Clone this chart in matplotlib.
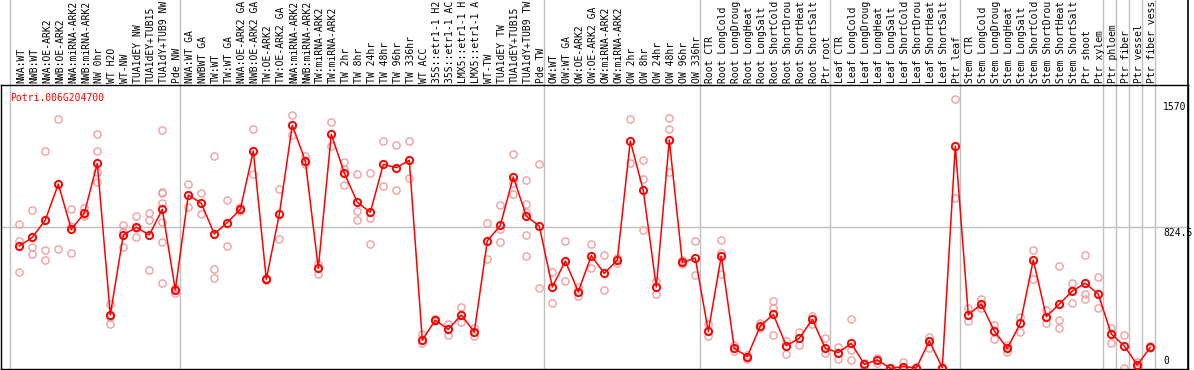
import matplotlib
matplotlib.use("Agg")
import matplotlib.pyplot as plt
import matplotlib.transforms as mtransforms

# -------------------------
# Data
# -------------------------
gene = "Potri.006G204700"

samples = [
    "NWA:WT", "NWB:WT", "NWA:OE-ARK2", "NWB:OE-ARK2", "NWA:miRNA-ARK2",
    "NWB:miRNA-ARK2", "NW 0hr", "WT H2O", "WT-NW", "TUA1dEY NW",
    "TUA1dEY+TUB15", "TUA1dY+TUB9 NW", "Pde NW",
    "NWA:WT GA", "NWBWT GA", "TW:WT", "TW:WT GA", "NWA:OE-ARK2 GA",
    "NWB:OE-ARK2 GA", "TW:OE-ARK2", "TW:OE-ARK2 GA", "NWA:miRNA-ARK2",
    "NWB:miRNA-ARK2", "TW:miRNA-ARK2", "TW:miRNA-ARK2", "TW 2hr", "TW 8hr",
    "TW 24hr", "TW 48hr", "TW 96hr", "TW 336hr", "WT ACC",
    "35S::etr1-1 H2O", "35S::etr1-1 ACC", "LMX5::etr1-1 H2O",
    "LMX5::etr1-1 ACC", "WT-TW", "TUA1dEY TW", "TUA1dEY+TUB15",
    "TUA1dY+TUB9 TW", "Pde TW",
    "OW:WT", "OW:WT GA", "OW:OE-ARK2", "OW:OE-ARK2 GA", "OW:miRNA-ARK2",
    "OW:miRNA-ARK2", "OW 2hr", "OW 8hr", "OW 24hr", "OW 48hr", "OW 96hr",
    "OW 336hr",
    "Root CTR", "Root LongCold", "Root LongDrought", "Root LongHeat",
    "Root LongSalt", "Root ShortCold", "Root ShortDrought", "Root ShortHeat",
    "Root ShortSalt", "Ptr root",
    "Leaf CTR", "Leaf LongCold", "Leaf LongDrought", "Leaf LongHeat",
    "Leaf LongSalt", "Leaf ShortCold", "Leaf ShortDrought", "Leaf ShortHeat",
    "Leaf ShortSalt", "Ptr leaf",
    "Stem CTR", "Stem LongCold", "Stem LongDrought", "Stem LongHeat",
    "Stem LongSalt", "Stem ShortCold", "Stem ShortDrought", "Stem ShortHeat",
    "Stem ShortSalt", "Ptr shoot",
    "Ptr xylem", "Ptr phloem", "Ptr fiber", "Ptr vessel", "Ptr fiber vessel",
]

means = [
    714, 764, 865, 1074, 811, 904, 1194, 314, 778, 823, 778, 927, 459,
    1010, 962, 784, 850, 927, 1266, 521, 898, 1415, 1209, 585, 1363, 1138,
    968, 910, 1188, 1169, 1212, 168, 284, 230, 314, 215, 743, 834, 1115,
    888, 830,
    476, 627, 449, 658, 555, 633, 1324, 1037, 476, 1330, 619, 644,
    219, 656, 120, 72, 250, 317, 135, 178, 288, 120,
    95, 149, 27, 52, 4, 14, 6, 163, 8, 1295,
    314, 377, 221, 120, 265, 633, 304, 377, 453, 498,
    434, 203, 134, 23, 126,
]

replicates = [
    [840, 743, 561], [921, 706, 666], [1266, 691, 633], [1450, 697],
    [927, 833, 672], [933, 900, 888], [1363, 1266, 1142, 1088],
    [377, 304, 261], [836, 797, 706], [888, 817, 765], [904, 865, 575],
    [1388, 1030, 1020, 966, 855, 736, 498], [468, 439],
    [1074, 939], [1020, 898], [1237, 579, 526], [979, 712], [940, 918],
    [1392, 1130], [527, 515], [1043, 755], [1475, 1359], [1237, 1190],
    [608, 553], [1432, 1295], [1200, 1161, 1068], [1130, 917, 863],
    [1136, 875, 724], [1324, 1062], [1300, 1039], [1324, 1107],
    [201, 149], [290, 278], [259, 197], [362, 271], [240, 193],
    [850, 639], [952, 813, 736], [1247, 1078, 1016],
    [1095, 958, 910, 778, 656], [1190, 472],
    [565, 383], [743, 511], [474, 426], [726, 588], [662, 459], [646, 614],
    [1451, 1194], [1212, 1103, 807], [511, 434], [1457, 1392, 1142],
    [633, 610], [743, 546],
    [259, 193], [749, 675, 550], [139, 106], [84, 60], [267, 236],
    [395, 356, 197], [163, 85], [217, 137], [310, 259], [178, 91],
    [130, 56], [288, 110, 52], [33, 15], [66, 37], [8, 2], [39, 2],
    [10, 3], [188, 120], [12, 4], [1570, 995],
    [352, 279], [406, 352], [255, 172], [139, 101], [304, 217], [691, 521],
    [341, 269], [598, 283, 236], [499, 460, 381], [660, 435, 405],
    [532, 352], [236, 149], [197, 8], [43, 4], [132, 120],
]

# index of the last sample in each group (grey separators after them)
group_ends = [12, 40, 52, 62, 72, 83, 84, 85, 86, 87]

y_max = 1649.0
y_mid = 824.5
y_top_label = 1570

# header only has room for this many characters
MAX_CHARS = 14

# -------------------------
# Figure
# -------------------------
W, H = 1194, 370
fig = plt.figure(figsize=(W / 100, H / 100), dpi=100)
ax = fig.add_axes([1 / W, 1 / H, 1187 / W, 284 / H])

x = list(range(len(samples)))
ax.set_xlim((1 - 19.3) / 13, (1188 - 19.3) / 13)
ax.set_ylim(0, y_max)
ax.set_xticks([])
ax.set_yticks([])
for sp in ax.spines.values():
    sp.set_color("black")
    sp.set_linewidth(1)

grey = "#c0c0c0"
mono = "DejaVu Sans Mono"
fs = 7.0

# grid lines
ax.axhline(y_mid, color=grey, lw=1, zorder=0)
top_ax = (369 - 0) / 284  # axes fraction at top of figure
ax.axvline(-0.715, ymin=0, ymax=top_ax, color=grey, lw=1, clip_on=False, zorder=0)
for g in group_ends:
    ax.axvline(g + 0.36, ymin=0, ymax=top_ax, color=grey, lw=1, clip_on=False, zorder=0)
ax.axvline(ax.get_xlim()[1], ymin=0, ymax=top_ax, color="black", lw=1.2, clip_on=False)

# replicates
rx, ry = [], []
for i, reps in enumerate(replicates):
    for v in reps:
        rx.append(i)
        ry.append(v)
ax.plot(rx, ry, linestyle="none", marker="o", markersize=5.2,
        markerfacecolor="none", markeredgecolor="#f0a0a0", markeredgewidth=1.0,
        zorder=2, clip_on=False)

# mean line
ax.plot(x, means, color="#ff0000", lw=1.1, marker="o", markersize=5.2,
        markerfacecolor="none", markeredgecolor="#ff0000", markeredgewidth=1.4,
        zorder=3, clip_on=False)

# sample labels in the header (clipped at the top like the original)
lab_tr = mtransforms.blended_transform_factory(ax.transData, ax.transAxes)
for i, s in enumerate(samples):
    ax.text(i + 0.13, (369 - 83) / 284, s[:MAX_CHARS], rotation=90, ha="center",
            va="bottom", family=mono, fontsize=fs, color="black",
            transform=lab_tr, clip_on=False)

# gene name
ax.text((10 - 1) / 1187, (369 - 93) / 284, gene, ha="left", va="top",
        family=mono, fontsize=fs, color="#ff0000", transform=ax.transAxes)

# value labels on the right
xl = (1163 - 19.3) / 13
ax.text(xl, y_top_label, f"{y_top_label}.", ha="left", va="top", family=mono,
        fontsize=fs, transform=mtransforms.offset_copy(ax.transData, fig=fig, x=0, y=-3, units="dots"))
ax.text(xl, y_mid, f"{y_mid}", ha="left", va="top", family=mono, fontsize=fs,
        transform=mtransforms.offset_copy(ax.transData, fig=fig, x=0, y=-1, units="dots"))
ax.text(xl, 0, "0", ha="left", va="bottom", family=mono, fontsize=fs,
        transform=mtransforms.offset_copy(ax.transData, fig=fig, x=0, y=3, units="dots"))

fig.savefig("out.png", dpi=100)
